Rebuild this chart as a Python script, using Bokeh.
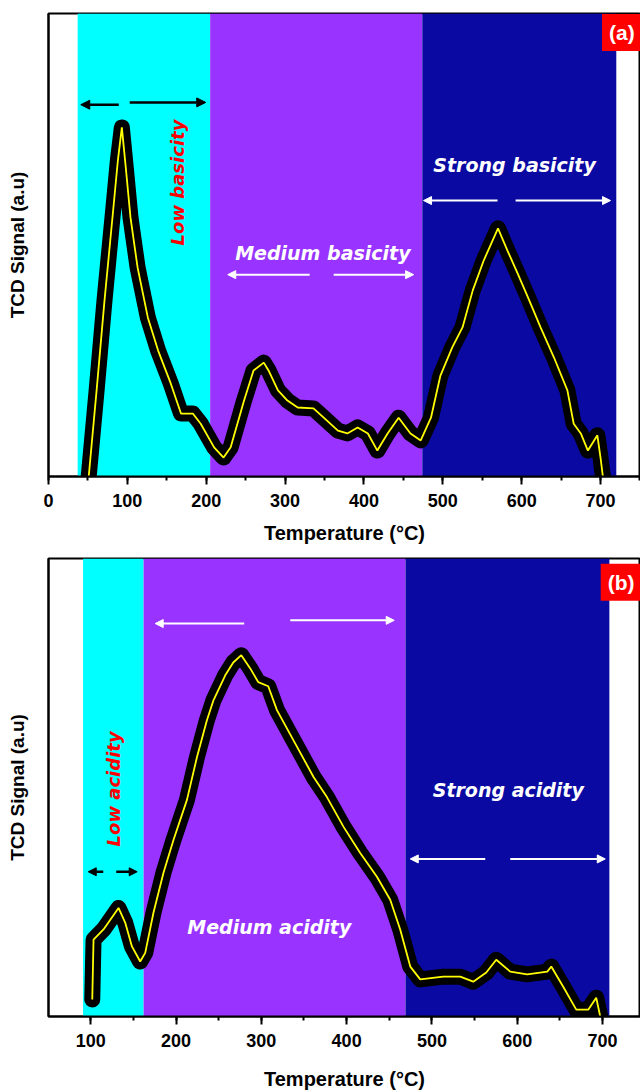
import math
from bokeh.plotting import figure
from bokeh.layouts import column
from bokeh.models import (Range1d, SingleIntervalTicker, FixedTicker, Label,
                          Arrow, NormalHead)
from bokeh.embed import file_html
from bokeh.resources import INLINE

# ---------------- data ----------------
# panel (a): CO2-TPD (basicity)
temp_a = [51, 61, 71, 82, 88, 93, 98, 104, 113, 126, 139, 155, 168, 183, 193,
          210, 222, 231, 248, 260, 273, 279, 291, 303, 316, 336, 349, 367,
          379, 392, 405, 417, 430, 444, 459, 472, 485, 497, 512, 525, 538,
          552, 570, 582, 595, 608, 624, 641, 658, 666, 675, 684, 696, 700, 703]
tcd_a = [0, 18.6, 38.0, 57.5, 68.3, 75.4, 66.7, 55.9, 45.1, 34.3, 27.2, 20.1,
         13.6, 13.6, 11.4, 6.3, 4.1, 6.3, 16.4, 22.9, 24.6, 22.9, 18.6, 16.4,
         14.9, 14.7, 12.7, 9.9, 9.3, 10.6, 9.3, 5.6, 9.3, 12.7, 9.3, 7.8,
         12.7, 21.8, 27.9, 32.2, 40.2, 46.7, 53.6, 48.8, 43.8, 38.7, 32.2,
         25.7, 18.6, 11.4, 9.3, 5.6, 8.9, 4.1, 0]
bands_a = [37, 205, 474, 720]   # low | medium | strong region limits (°C)

# panel (b): NH3-TPD (acidity)
temp_b = [101.8, 103.3, 115.0, 132.6, 140.4, 148.3, 158.0, 163.9, 173.6,
          185.3, 197.1, 212.8, 224.5, 236.2, 244.0, 257.7, 267.1, 276.5,
          287.0, 296.4, 308.1, 318.3, 337.7, 361.2, 376.9, 396.4, 415.9,
          435.5, 451.1, 462.8, 474.6, 486.3, 513.3, 533.2, 548.4, 563.7,
          575.4, 591.8, 611.7, 635.2, 639.9, 653.9, 669.2, 683.2, 692.6, 697.3]
tcd_b = [3.7, 16.8, 19.0, 23.7, 20.5, 15.3, 12.0, 13.9, 22.7, 31.4, 38.6,
         47.3, 56.6, 64.7, 69.1, 74.5, 77.3, 78.9, 76.0, 73.0, 72.1, 66.9,
         60.3, 52.3, 47.9, 41.4, 35.7, 30.5, 25.5, 19.0, 10.9, 8.1, 8.7, 8.7,
         7.6, 9.6, 12.4, 9.8, 9.2, 9.8, 10.9, 6.5, 1.5, 1.5, 4.1, 0]
bands_b = [91, 162, 469, 708]

band_colors = ["#00FFFF", "#9933FF", "#0A0AA2"]

FONT = "Liberation Sans"
ANN_FONT = "DejaVu Sans"


def make_panel(temp, tcd, bands, xr, height, mb_top, mb_bottom, tag, tag_pos,
               lab_standoff, title_standoff):
    p = figure(width=640, height=height, x_range=Range1d(*xr),
               y_range=Range1d(0, 100), output_backend="svg",
               toolbar_location=None, min_border_left=48, min_border_right=0,
               min_border_top=mb_top, min_border_bottom=mb_bottom)
    p.grid.visible = False
    p.outline_line_color = "black"
    p.outline_line_width = 2
    p.background_fill_color = "white"
    p.border_fill_color = "white"

    # coloured regions
    p.quad(left=bands[:-1], right=bands[1:], bottom=0, top=100,
           fill_color=band_colors, line_color=None)

    # signal: thick black band + thin yellow trace
    p.line(temp, tcd, line_color="black", line_width=16,
           line_join="round", line_cap="round")
    p.line(temp, tcd, line_color="#FFFF00", line_width=1.8)

    # x axis
    xa = p.xaxis[0]
    xa.ticker = SingleIntervalTicker(interval=100, num_minor_ticks=2)
    xa.axis_label = "Temperature (°C)"
    xa.axis_label_text_font = FONT
    xa.axis_label_text_font_style = "bold"
    xa.axis_label_text_font_size = "20px"
    xa.axis_label_text_color = "black"
    xa.axis_label_standoff = title_standoff
    xa.major_label_text_font = FONT
    xa.major_label_text_font_style = "bold"
    xa.major_label_text_font_size = "18px"
    xa.major_label_text_color = "black"
    xa.major_label_standoff = lab_standoff
    xa.axis_line_width = 2
    xa.major_tick_line_width = 2
    xa.minor_tick_line_width = 2
    xa.major_tick_out = 8
    xa.major_tick_in = 0
    xa.minor_tick_out = 4
    xa.minor_tick_in = 0

    # y axis (no ticks)
    ya = p.yaxis[0]
    ya.ticker = FixedTicker(ticks=[])
    ya.axis_label = "TCD Signal (a.u)"
    ya.axis_label_text_font = FONT
    ya.axis_label_text_font_style = "bold"
    ya.axis_label_text_font_size = "19px"
    ya.axis_label_text_color = "black"
    ya.axis_label_standoff = 21
    ya.major_label_standoff = 0
    ya.major_tick_out = 0
    ya.minor_tick_out = 0
    ya.axis_line_width = 2

    # panel tag
    p.add_layout(Label(x=tag_pos[0], y=tag_pos[1], text=tag,
                       text_font=FONT, text_font_style="bold",
                       text_font_size="21px", text_color="white",
                       text_align="center", text_baseline="middle",
                       background_fill_color="#FF0000", padding=7))
    return p


def arrow(p, x0, x1, y, color, width=2, size=8):
    p.add_layout(Arrow(x_start=x0, y_start=y, x_end=x1, y_end=y,
                       line_color=color, line_width=width,
                       end=NormalHead(size=size, fill_color=color,
                                      line_color=color)))


def text(p, x, y, s, color, angle=0.0, size="19px"):
    p.add_layout(Label(x=x, y=y, text=s, text_font=ANN_FONT,
                       text_font_style="bold italic", text_font_size=size,
                       text_color=color, text_align="center",
                       text_baseline="middle", angle=angle))


pa = make_panel(temp_a, tcd_a, bands_a, (0, 750.7), 548, 13, 72, "(a)",
                (727, 95.9), 9, 12)
arrow(pa, 89.1, 40.9, 80.3, "black", 2.5, 9)
arrow(pa, 103.0, 199.4, 80.8, "black", 2.5, 9)
arrow(pa, 331.2, 227.3, 43.6, "white")
arrow(pa, 361.6, 463.0, 43.6, "white")
arrow(pa, 569.4, 475.6, 59.6, "white")
arrow(pa, 592.3, 712.7, 59.6, "white")
text(pa, 164.0, 63.5, "Low basicity", "#FF0000", math.pi / 2, "18px")
text(pa, 347.9, 48.2, "Medium basicity", "white")
text(pa, 591.0, 67.2, "Strong basicity", "white")

pb = make_panel(temp_b, tcd_b, bands_b, (50.5, 744.5), 544, 10, 75, "(b)",
                (721.8, 94.8), 9, 18)
arrow(pb, 114.7, 97.1, 31.6, "black", 2.5, 8)
arrow(pb, 129.9, 154.5, 31.6, "black", 2.5, 8)
arrow(pb, 279.9, 175.6, 85.8, "white")
arrow(pb, 333.9, 455.8, 86.5, "white")
arrow(pb, 562.5, 474.6, 34.4, "white")
arrow(pb, 591.8, 703.2, 34.4, "white")
text(pb, 126.4, 49.7, "Low acidity", "#FF0000", math.pi / 2, "18px")
text(pb, 309.3, 19.6, "Medium acidity", "white")
text(pb, 589.5, 49.5, "Strong acidity", "white")

layout = column(pa, pb, spacing=0)
open("out.html", "w").write(file_html(layout, INLINE))
